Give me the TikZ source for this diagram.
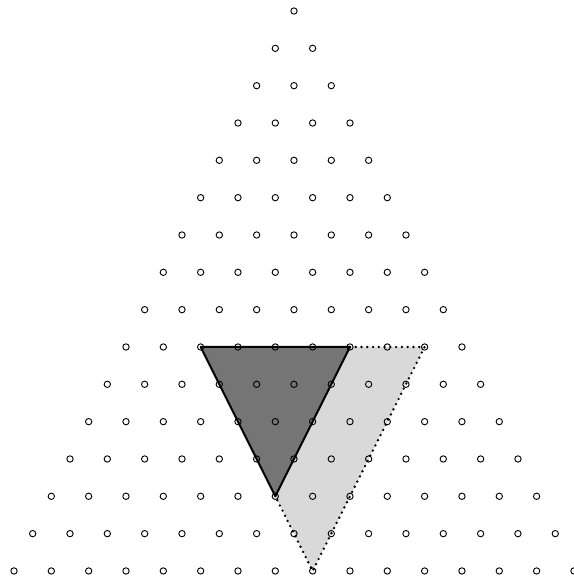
\documentclass[tikz,border=0pt]{standalone}
\usepackage{tikz}
\usetikzlibrary{calc}

\begin{document}
\begin{tikzpicture}[
x=1cm, y=1cm,
site/.style={circle, draw, line width=0.7pt, inner sep=0pt, minimum size=0.17cm},
edge/.style={line width=1.5pt, line join=round},
guide/.style={line width=2pt, line cap=round, dash pattern=on 0pt off 4.4pt}
]
\useasboundingbox (-7.875,0.295) rectangle (7.5,-15.162);

% lattice points
\foreach \r in {0,...,15} {
  \foreach \k in {0,...,\r} {
    \coordinate (p-\r-\k) at ({\k-\r/2},{-\r});
  }
}

% shaded triangles
\fill[black!15] (p-9-2) -- (p-9-8) -- (p-15-8) -- cycle;
\fill[black!54] (p-9-2) -- (p-9-6) -- (p-13-6) -- cycle;

\draw[guide] (p-9-6) -- (p-9-8) -- (p-15-8) -- (p-13-6);
\draw[edge] (p-9-2) -- (p-9-6) -- (p-13-6) -- cycle;

% sites
\foreach \r in {0,...,15} {
  \foreach \k in {0,...,\r} {
    \node[site] (s-\r-\k) at (p-\r-\k) {};
  }
}

\end{tikzpicture}
\end{document}
